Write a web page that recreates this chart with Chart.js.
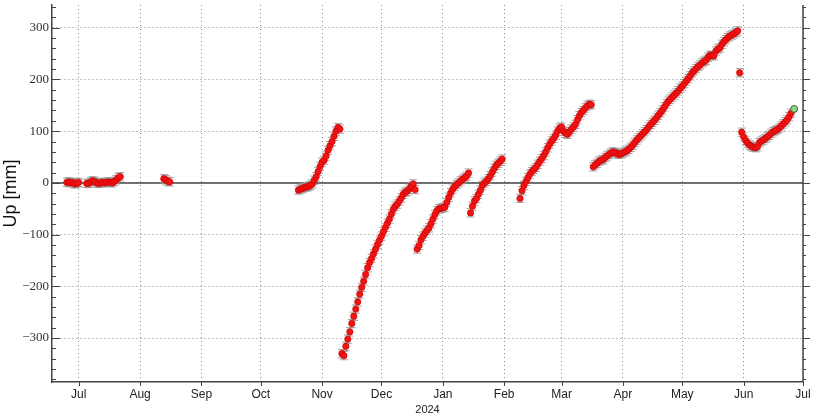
<!DOCTYPE html>
<html><head><meta charset="utf-8">
<script src="https://cdn.jsdelivr.net/npm/chart.js@4/dist/chart.umd.min.js"></script>
<style>html,body{margin:0;padding:0;background:#fff}#wrap{width:815px;height:415px}</style>
</head><body><div id="wrap"><canvas id="c" width="815" height="415"></canvas></div>
<script>
// x values are days since 2023-07-01
const monthTickDays = [0,31,62,92,123,153,184,215,244,275,305,336,366];
const monthLabels = ['Jul','Aug','Sep','Oct','Nov','Dec','Jan','Feb','Mar','Apr','May','Jun','Jul'];
const yTickValues = [-300,-200,-100,0,100,200,300];
const xAxisTitle = '2024';
const yAxisTitle = 'Up [mm]';

const days = [
  -6,-5,-4,-3,-2,-1,0,4,5,6,7,8,9,10,11,12,13,14,15,16,17,18,19,20,21,
  43,44,45,46,
  111,112,113,114,115,116,117,118,119,120,121,122,123,124,125,126,127,128,129,130,131,132,
  133,134,135,136,137,138,139,140,141,142,143,144,145,146,147,148,149,150,151,152,153,154,155,156,157,158,159,160,161,162,163,164,165,166,167,168,169,170,
  171,172,173,174,175,176,177,178,179,180,181,182,183,184,185,186,187,188,189,190,191,192,193,194,195,196,197,
  198,199,200,201,202,203,204,205,206,207,208,209,210,211,212,213,214,
  223,224,225,226,227,228,229,230,231,232,233,234,235,236,237,238,239,240,241,242,243,244,245,246,247,248,249,250,251,252,253,254,255,256,257,258,259,
  260,261,262,263,264,265,266,267,268,269,270,271,272,273,274,275,276,277,278,279,280,281,282,283,284,285,286,287,288,289,290,291,292,293,294,295,296,297,298,299,300,301,302,303,304,305,306,307,308,309,310,311,312,313,314,315,316,317,318,319,320,321,322,323,324,325,326,327,328,329,330,331,332,333,
  334,
  335,336,337,338,339,340,341,342,343,344,345,346,347,348,349,350,351,352,353,354,355,356,357,358,359,360
];
const upMM = [
  1,2,0,1,-2,-1,1,-1,-1,2,4,3,0,-1,0,1,0,1,2,1,0,3,6,10,12,
  8,6,3,2,
  -14,-12,-11,-9,-8,-7,-5,-2,5,12,22,32,40,44,52,63,72,80,90,100,107,104,
  -330,-334,-316,-302,-288,-272,-258,-244,-230,-215,-202,-190,-177,-164,-154,-146,-137,-128,-119,-111,-103,-94,-86,-78,-70,-60,-51,-45,-41,-35,-29,-22,-18,-16,-12,-7,-2,-13,
  -128,-121,-110,-103,-97,-92,-87,-79,-70,-61,-54,-50,-49,-48,-47,-38,-28,-19,-12,-7,-3,0,4,7,10,13,19,
  -58,-45,-35,-30,-22,-14,-5,0,3,8,14,21,28,34,38,42,46,
  -30,-15,-5,3,10,17,22,26,30,36,42,47,53,60,68,75,81,86,92,100,106,108,100,96,94,99,104,108,113,122,130,136,140,145,149,152,151,
  31,35,38,42,44,45,49,52,55,58,60,59,57,55,56,58,60,62,65,69,73,78,83,87,91,95,99,103,108,113,117,121,126,131,136,141,147,153,158,162,166,170,174,178,183,187,192,197,202,207,213,217,221,225,228,232,235,237,243,247,246,246,255,259,261,268,273,277,281,284,286,288,291,294,
  213,
  98,89,82,77,73,71,69,68,70,78,81,83,86,89,92,96,99,101,103,106,110,114,118,122,128,135
];
const latestDay = [361.5];
const latestUp = [143];
const sigmaMM = 8;

const pts = days.map((d,i)=>({x:d,y:upMM[i]}));
const capsHi = days.map((d,i)=>({x:d,y:upMM[i]+sigmaMM}));
const capsLo = days.map((d,i)=>({x:d,y:upMM[i]-sigmaMM}));
const latestPts = latestDay.map((d,i)=>({x:d,y:latestUp[i]}));

const extras = {
  id:'extras',
  beforeDatasetsDraw(chart){
    const {ctx, chartArea:a, scales:{x,y}} = chart;
    ctx.save();
    ctx.strokeStyle = 'rgba(150,150,150,0.9)';
    ctx.lineWidth = 1;
    ctx.beginPath();
    pts.forEach(p=>{
      const px = x.getPixelForValue(p.x);
      ctx.moveTo(px, y.getPixelForValue(p.y - sigmaMM));
      ctx.lineTo(px, y.getPixelForValue(p.y + sigmaMM));
    });
    ctx.stroke();
    const y0 = y.getPixelForValue(0);
    ctx.strokeStyle = '#444';
    ctx.lineWidth = 1.5;
    ctx.beginPath();
    ctx.moveTo(a.left, y0); ctx.lineTo(a.right, y0);
    ctx.stroke();
    ctx.restore();
  },
  afterDraw(chart){
    const {ctx, chartArea:a, scales:{x,y}} = chart;
    ctx.save();
    ctx.strokeStyle = '#444';
    ctx.lineWidth = 1.5;
    ctx.beginPath();
    ctx.moveTo(a.right, a.top); ctx.lineTo(a.right, a.bottom);
    ctx.stroke();
    ctx.lineWidth = 1;
    ctx.beginPath();
    for (let v = -380; v <= 340; v += 20) {
      const py = Math.round(y.getPixelForValue(v)) + 0.5;
      const len = (v % 100 === 0) ? 8 : 4;
      ctx.moveTo(a.left, py); ctx.lineTo(a.left + len, py);
      ctx.moveTo(a.right, py); ctx.lineTo(a.right + len - 1, py);
    }
    monthTickDays.forEach(d=>{
      const px = Math.round(x.getPixelForValue(d)) + 0.5;
      ctx.moveTo(px, a.bottom); ctx.lineTo(px, a.bottom + 4);
    });
    ctx.stroke();
    ctx.restore();
  }
};

new Chart(document.getElementById('c'), {
  type:'scatter',
  data:{datasets:[
    {data:latestPts, pointRadius:3.5, backgroundColor:'#8fd48f', borderColor:'#2e6b2e', borderWidth:1, order:0},
    {data:pts, pointRadius:3.2, backgroundColor:'#f01414', borderColor:'#c80000', borderWidth:0.6, order:1},
    {data:capsHi, pointStyle:'line', pointRadius:4, borderColor:'rgba(150,150,150,0.9)', borderWidth:1, order:3},
    {data:capsLo, pointStyle:'line', pointRadius:4, borderColor:'rgba(150,150,150,0.9)', borderWidth:1, order:3}
  ]},
  options:{
    responsive:false, animation:false, devicePixelRatio:1,
    layout:{padding:{left:0,right:12,top:3,bottom:0}},
    plugins:{legend:{display:false}, tooltip:{enabled:false}},
    scales:{
      x:{
        type:'linear', min:-13.5, max:366,
        afterBuildTicks(s){ s.ticks = monthTickDays.map(v=>({value:v})); },
        afterFit(s){ s.height = 33; s.paddingLeft = 0; s.paddingRight = 0; },
        ticks:{autoSkip:false, maxRotation:0, padding:5, color:'#222',
          font:{family:'Liberation Sans', size:12},
          callback:(v,i)=>monthLabels[i]},
        grid:{color:'#8a8a8a', lineWidth:1, drawTicks:false},
        border:{display:true, color:'#444', width:1.5, dash:[1,3]},
        title:{display:true, text:xAxisTitle, color:'#222', font:{family:'Liberation Sans', size:11}, padding:{top:0,bottom:-2}}
      },
      y:{
        min:-385, max:344,
        afterBuildTicks(s){ s.ticks = yTickValues.map(v=>({value:v})); },
        afterFit(s){ s.width = 52; s.paddingTop = 0; s.paddingBottom = 0; },
        ticks:{padding:3, color:'#333', font:{family:'Liberation Serif', size:13},
          callback:v=> v<0 ? '\u2212'+Math.abs(v) : String(v)},
        grid:{color:'#8a8a8a', lineWidth:1, drawTicks:false},
        border:{display:true, color:'#444', width:1.5, dash:[1,3]},
        title:{display:true, text:yAxisTitle, color:'#111', font:{family:'Liberation Sans', size:18}, padding:{top:0,bottom:0}}
      }
    }
  },
  plugins:[extras]
});
</script></body></html>
